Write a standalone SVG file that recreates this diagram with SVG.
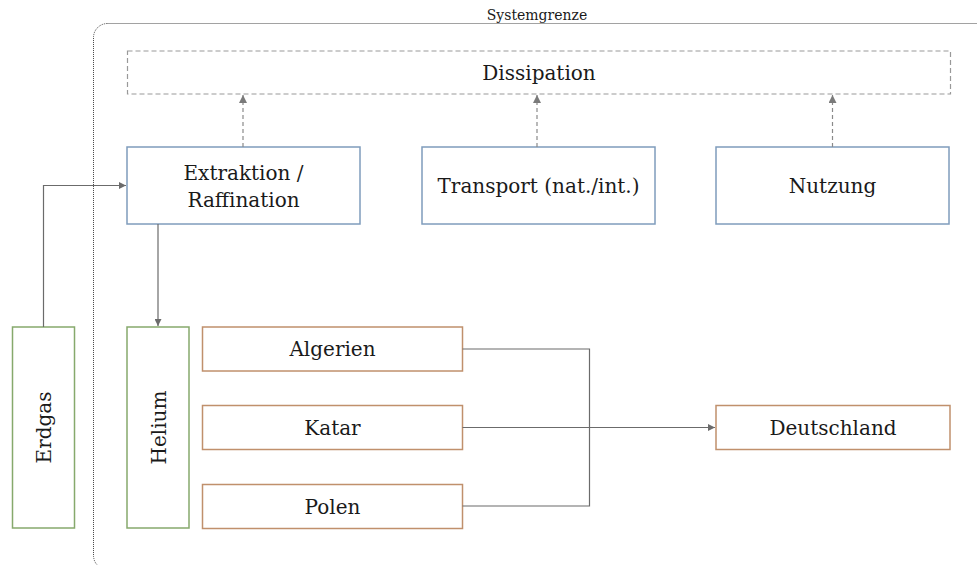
<svg xmlns="http://www.w3.org/2000/svg" width="977" height="565" viewBox="0 0 977 565">
<style>
text{font-family:"DejaVu Serif","Liberation Serif",serif;fill:#1a1a1a;text-anchor:middle}
.lbl{font-size:20px}
.blue{fill:#fff;stroke:#7f9cbc;stroke-width:1.5}
.green{fill:#fff;stroke:#86a96c;stroke-width:1.5}
.orange{fill:#fff;stroke:#c0906c;stroke-width:1.5}
.conn{fill:none;stroke:#6b6b6b;stroke-width:1.2}
.dash{fill:none;stroke:#8a8a8a;stroke-width:1.2;stroke-dasharray:4 3}
</style>
<defs>
<marker id="ah" viewBox="0 0 10 10" refX="10" refY="5" markerWidth="7" markerHeight="7" markerUnits="userSpaceOnUse" orient="auto">
<path d="M0,0 L10,5 L0,10 z" fill="#6b6b6b"/>
</marker>
<marker id="ahd" viewBox="0 0 10 10" refX="10" refY="5" markerWidth="8" markerHeight="8" markerUnits="userSpaceOnUse" orient="auto">
<path d="M0,0 L10,5 L0,10 z" fill="#7a7a7a"/>
</marker>
</defs>
<g id="systemgrenze">
<rect x="93.5" y="23.5" width="1000" height="546" rx="14" fill="none" stroke="#444" stroke-width="1" stroke-dasharray="1 1"/>
<text x="537" y="20" style="font-size:14px">Systemgrenze</text>
</g>
<g id="dissipation">
<rect x="127.5" y="51" width="823" height="43" fill="none" stroke="#999" stroke-width="1.2" stroke-dasharray="5 3"/>
<text class="lbl" x="539" y="80">Dissipation</text>
</g>
<g id="extraktion">
<rect class="blue" x="127" y="147" width="233" height="77"/>
<text class="lbl" x="243.5" y="180">Extraktion /</text>
<text class="lbl" x="243.5" y="207">Raffination</text>
</g>
<g id="transport">
<rect class="blue" x="422" y="147" width="233" height="77"/>
<text class="lbl" x="538.5" y="193">Transport (nat./int.)</text>
</g>
<g id="nutzung">
<rect class="blue" x="716" y="147" width="233" height="77"/>
<text class="lbl" x="832.5" y="193">Nutzung</text>
</g>
<g id="erdgas">
<rect class="green" x="12.5" y="327" width="62" height="201"/>
<text class="lbl" transform="translate(51,427.5) rotate(-90)">Erdgas</text>
</g>
<g id="helium">
<rect class="green" x="127" y="327" width="62" height="201"/>
<text class="lbl" transform="translate(165.5,427.5) rotate(-90)">Helium</text>
</g>
<g id="algerien">
<rect class="orange" x="202.5" y="327" width="260" height="44"/>
<text class="lbl" x="332.5" y="356">Algerien</text>
</g>
<g id="katar">
<rect class="orange" x="202.5" y="405.5" width="260" height="44"/>
<text class="lbl" x="332.5" y="434.5">Katar</text>
</g>
<g id="polen">
<rect class="orange" x="202.5" y="484.5" width="260" height="44"/>
<text class="lbl" x="332.5" y="513.5">Polen</text>
</g>
<g id="deutschland">
<rect class="orange" x="716" y="405.5" width="234" height="44"/>
<text class="lbl" x="833" y="434.5">Deutschland</text>
</g>
<g id="connectors">
<path class="conn" d="M43.5,327 V185.5 H126" marker-end="url(#ah)"/>
<path class="conn" d="M158,224 V326" marker-end="url(#ah)"/>
<path class="conn" d="M462.5,349 H589.5 V506 H462.5"/>
<path class="conn" d="M462.5,427.5 H715" marker-end="url(#ah)"/>
<path class="dash" d="M243,147 V95" marker-end="url(#ahd)"/>
<path class="dash" d="M537,147 V95" marker-end="url(#ahd)"/>
<path class="dash" d="M832.5,147 V95" marker-end="url(#ahd)"/>
</g>
</svg>
